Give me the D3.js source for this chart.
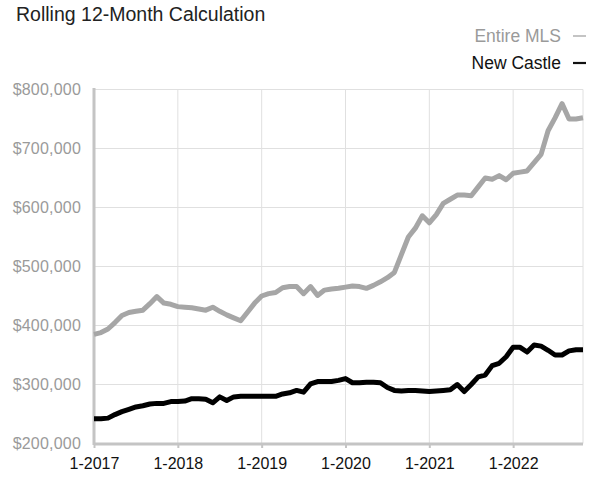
<!DOCTYPE html>
<html><head><meta charset="utf-8">
<script src="https://cdn.jsdelivr.net/npm/d3@7"></script>
<style>
body{margin:0;background:#fff;}
svg{display:block;}
</style></head>
<body><svg id="c" width="610" height="492"></svg>
<script>
const title = "Rolling 12-Month Calculation";
const seriesNames = ["Entire MLS", "New Castle"];
const yTicks = [200000, 300000, 400000, 500000, 600000, 700000, 800000];
const xTickIndex = [0, 12, 24, 36, 48, 60];
const xTickLabels = ["1-2017", "1-2018", "1-2019", "1-2020", "1-2021", "1-2022"];
// Monthly values, Jan 2017 - Nov 2022 (thousands of $)
const entireMLS = [385,388,394,405,417,422,424,426,437,449,438,436,432,431,430,428,426,431,424,418,413,408,423,438,450,454,456,464,466,466,454,466,451,460,462,463,465,467,466,463,468,474,481,490,520,550,565,586,574,588,607,614,621,621,620,635,650,648,654,647,658,660,662,676,690,730,752,776,750,750,752];
const newCastle = [242,242,243,249,254,258,262,264,267,268,268,271,271,272,276,276,275,269,279,273,279,280,280,280,280,280,280,284,286,290,287,301,305,305,305,307,310,303,303,304,304,303,295,290,289,290,290,289,288,289,290,291,300,288,300,313,316,332,336,347,363,363,355,367,365,358,350,350,357,359,359];

const svg = d3.select("#c");
const x = d3.scaleLinear().domain([0, entireMLS.length - 1]).range([94, 583]);
const y = d3.scaleLinear().domain([200000, 800000]).range([443.5, 89.5]);

// title
svg.append("text").attr("x", 16).attr("y", 21)
  .attr("font-family", "'Liberation Sans Narrow','Arial Narrow',sans-serif")
  .attr("font-size", 19.5).attr("fill", "#222").text(title);

// legend
const legendY = [36, 63];
seriesNames.forEach((n, i) => {
  svg.append("text").attr("x", 561).attr("y", legendY[i] + 6)
    .attr("text-anchor", "end")
    .attr("font-family", "'Liberation Sans',Arial,sans-serif")
    .attr("font-size", 17.5).attr("fill", i === 0 ? "#9a9a9a" : "#111").text(n);
  svg.append("line").attr("x1", 573).attr("x2", 586)
    .attr("y1", legendY[i]).attr("y2", legendY[i])
    .attr("stroke", i === 0 ? "#b0b0b0" : "#111").attr("stroke-width", i === 0 ? 1.5 : 2.2);
});

// grid
const g = svg.append("g");
g.selectAll("line.h").data(yTicks.slice(1)).enter().append("line")
  .attr("x1", 94).attr("x2", 583).attr("y1", d => y(d)).attr("y2", d => y(d))
  .attr("stroke", "#e0e0e0").attr("stroke-width", 1);
g.selectAll("line.v").data(xTickIndex.slice(1).concat([entireMLS.length - 1])).enter().append("line")
  .attr("x1", d => x(d)).attr("x2", d => x(d)).attr("y1", y(800000)).attr("y2", y(200000))
  .attr("stroke", "#e0e0e0").attr("stroke-width", 1);

// y axis labels
svg.append("g").attr("transform", "translate(81,0)")
  .call(d3.axisLeft(y).tickValues(yTicks).tickSize(0).tickPadding(0)
    .tickFormat(d => "$" + d3.format(",")(d)))
  .call(a => a.select(".domain").remove())
  .call(a => a.selectAll("text").attr("fill", "#9a9a9a")
    .attr("font-family", "'Liberation Sans',Arial,sans-serif").attr("font-size", 16).attr("letter-spacing", 0.2));

// axes lines
svg.append("line").attr("x1", 94).attr("x2", 94).attr("y1", 88).attr("y2", 445)
  .attr("stroke", "#c4c4c4").attr("stroke-width", 3);

const xa = svg.append("g").attr("transform", "translate(0,444)")
  .call(d3.axisBottom(x).tickValues(xTickIndex).tickSize(4).tickPadding(10)
    .tickFormat((d, i) => xTickLabels[i]));
xa.select(".domain").attr("stroke", "#c4c4c4").attr("stroke-width", 3).attr("d", "M94,0H583");
xa.selectAll(".tick line").attr("stroke", "#c4c4c4").attr("stroke-width", 2);
xa.selectAll("text").attr("fill", "#111")
  .attr("font-family", "'Liberation Sans',Arial,sans-serif").attr("font-size", 16);

// lines
const line = d3.line().x((d, i) => x(i)).y(d => y(d * 1000));
svg.append("path").datum(entireMLS).attr("d", line).attr("fill", "none")
  .attr("stroke", "#a6a6a6").attr("stroke-width", 5).attr("stroke-linejoin", "round");
svg.append("path").datum(newCastle).attr("d", line).attr("fill", "none")
  .attr("stroke", "#000").attr("stroke-width", 5).attr("stroke-linejoin", "round");
</script></body></html>
